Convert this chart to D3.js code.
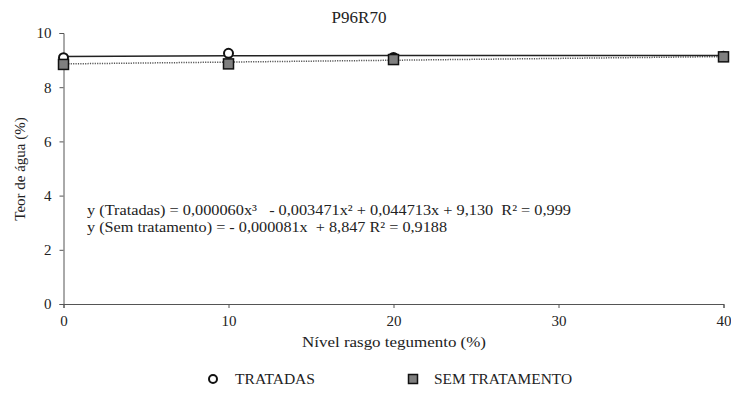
<!DOCTYPE html>
<html>
<head>
<meta charset="utf-8">
<script src="https://cdn.jsdelivr.net/npm/d3@7"></script>
<style>
  body { margin: 0; background: #fff; }
</style>
</head>
<body>
<svg id="chart" width="731" height="395"></svg>
<script>
// Water content (%) by seed-coat cut level (%)
const levels = [0, 10, 20, 40];
const tratadas = [9.09, 9.25, 9.10, 9.14];
const semTratamento = [8.84, 8.86, 9.02, 9.12];

// Fitted trend curves (level, value)
const trendTratadasX = [0, 10, 20, 40];
const trendTratadasY = [9.13, 9.16, 9.17, 9.17];
const trendSemX = [0, 40];
const trendSemY = [8.86, 9.13];

const xTicks = [0, 10, 20, 30, 40];
const yTicks = [0, 2, 4, 6, 8, 10];

const title = "P96R70";
const xLabel = "Nível rasgo tegumento (%)";
const yLabel = "Teor de água (%)";
const eqLines = [
  "y (Tratadas) = 0,000060x³   - 0,003471x² + 0,044713x + 9,130  R² = 0,999",
  "y (Sem tratamento) = - 0,000081x  + 8,847 R² = 0,9188"
];
// Rendered widths of the two equation lines
const eqWidths = [484, 360];
const legendNames = ["TRATADAS", "SEM TRATAMENTO"];
const legendWidths = [80, 138];

const FONT = "'Liberation Serif', Tinos, 'Noto Serif', 'DejaVu Serif', Times, serif";

const svg = d3.select("#chart").style("font-family", FONT);
const x = d3.scaleLinear().domain([0, 40]).range([63.5, 723.5]);
const y = d3.scaleLinear().domain([0, 10]).range([304, 33]);

// Axes
const xAxis = svg.append("g").attr("transform", `translate(0,${y(0)})`)
  .call(d3.axisBottom(x).tickValues(xTicks).tickSize(4).tickPadding(5));
const yAxis = svg.append("g").attr("transform", `translate(${x(0)},0)`)
  .call(d3.axisLeft(y).tickValues(yTicks).tickSize(4).tickPadding(8));
[xAxis, yAxis].forEach(g => {
  g.attr("font-family", null).attr("font-size", null);
  g.selectAll("path.domain").attr("stroke", "#555").attr("stroke-width", 1);
  g.selectAll(".tick line").attr("stroke", "#555");
  g.selectAll(".tick text").style("font-family", FONT).style("font-size", "15px").attr("fill", "#222");
});
xAxis.selectAll(".tick text").attr("dy", "0.85em");

// Trend lines
const line = d3.line().x(d => x(d[0])).y(d => y(d[1]));
svg.append("path")
  .datum(d3.zip(trendSemX, trendSemY))
  .attr("d", line).attr("fill", "none")
  .attr("stroke", "#555").attr("stroke-width", 1.5).attr("stroke-dasharray", "1.2,1.2");
svg.append("path")
  .datum(d3.zip(trendTratadasX, trendTratadasY))
  .attr("d", line).attr("fill", "none")
  .attr("stroke", "#222").attr("stroke-width", 1.5);

// Markers
svg.append("g").selectAll("circle")
  .data(d3.zip(levels, tratadas)).join("circle")
  .attr("cx", d => x(d[0])).attr("cy", d => y(d[1])).attr("r", 4.5)
  .attr("fill", "#fff").attr("stroke", "#111").attr("stroke-width", 2);
const sq = 10;
svg.append("g").selectAll("rect")
  .data(d3.zip(levels, semTratamento)).join("rect")
  .attr("x", d => x(d[0]) - sq / 2).attr("y", d => y(d[1]) - sq / 2)
  .attr("width", sq).attr("height", sq)
  .attr("fill", "#7f7f7f").attr("stroke", "#111").attr("stroke-width", 1.5);

const txt = (sel, size) => sel.style("font-family", FONT).style("font-size", size + "px").attr("fill", "#222");

// Title and axis labels
txt(svg.append("text").attr("x", 359).attr("y", 23).attr("text-anchor", "middle"), 17).text(title);
txt(svg.append("text").attr("x", 394).attr("y", 347).attr("text-anchor", "middle")
  .attr("textLength", 184).attr("lengthAdjust", "spacingAndGlyphs"), 15).text(xLabel);
txt(svg.append("text").attr("transform", "translate(25,169) rotate(-90)")
  .attr("text-anchor", "middle"), 15).text(yLabel);

// Regression equations
txt(svg.append("g").selectAll("text").data(eqLines).join("text")
  .attr("x", 87).attr("y", (d, i) => 215 + i * 17)
  .attr("textLength", (d, i) => eqWidths[i]).attr("lengthAdjust", "spacingAndGlyphs"), 15)
  .style("white-space", "pre").text(d => d);

// Legend
const lg = svg.append("g");
lg.append("circle").attr("cx", 213).attr("cy", 379).attr("r", 4)
  .attr("fill", "#fff").attr("stroke", "#111").attr("stroke-width", 2);
txt(lg.append("text").attr("x", 235).attr("y", 384)
  .attr("textLength", legendWidths[0]).attr("lengthAdjust", "spacingAndGlyphs"), 14).text(legendNames[0]);
lg.append("rect").attr("x", 408.5).attr("y", 374.5).attr("width", 9).attr("height", 9)
  .attr("fill", "#7f7f7f").attr("stroke", "#111").attr("stroke-width", 1.5);
txt(lg.append("text").attr("x", 434).attr("y", 384)
  .attr("textLength", legendWidths[1]).attr("lengthAdjust", "spacingAndGlyphs"), 14).text(legendNames[1]);
</script>
</body>
</html>
